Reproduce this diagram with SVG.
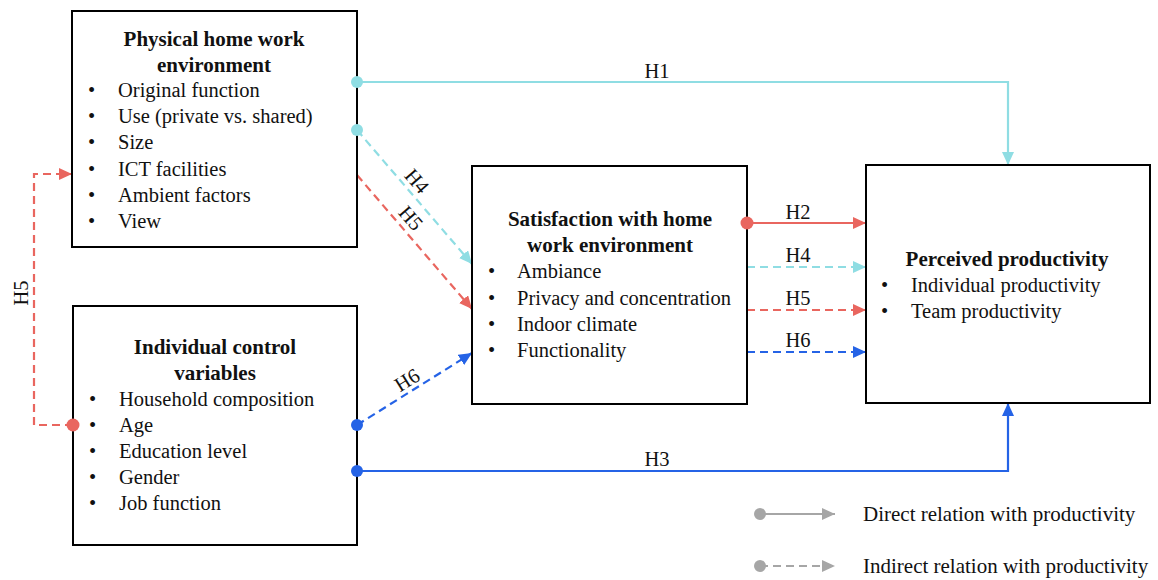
<svg xmlns="http://www.w3.org/2000/svg" width="1158" height="580" viewBox="0 0 1158 580" font-family="Liberation Serif, serif" font-size="20.5">
<style>
.box{fill:#fff;stroke:#000;stroke-width:2}
.tx{fill:#111}
.t{font-weight:bold;text-anchor:middle;font-size:21px}
.lbl{text-anchor:middle;dominant-baseline:central}
.c{stroke:#8fdde3}
.r{stroke:#e9665f}
.b{stroke:#2563e6}
.g{stroke:#a6a6a6}
.ln{fill:none;stroke-width:2.2}
.d{stroke-dasharray:8 5}
</style>
<defs>
<marker id="ac" markerUnits="userSpaceOnUse" markerWidth="14" markerHeight="12" refX="13" refY="6" orient="auto"><path d="M0,0 L13,6 L0,12 z" fill="#8fdde3"/></marker>
<marker id="ar" markerUnits="userSpaceOnUse" markerWidth="14" markerHeight="12" refX="13" refY="6" orient="auto"><path d="M0,0 L13,6 L0,12 z" fill="#e9665f"/></marker>
<marker id="ab" markerUnits="userSpaceOnUse" markerWidth="14" markerHeight="12" refX="13" refY="6" orient="auto"><path d="M0,0 L13,6 L0,12 z" fill="#2563e6"/></marker>
<marker id="ag" markerUnits="userSpaceOnUse" markerWidth="14" markerHeight="12" refX="13" refY="6" orient="auto"><path d="M0,0 L13,6 L0,12 z" fill="#a6a6a6"/></marker>
</defs>

<g id="connectors">
<polyline class="ln c" points="357,82 1008,82 1008,165" marker-end="url(#ac)"/>
<line class="ln c d" x1="357" y1="130" x2="472" y2="264" marker-end="url(#ac)"/>
<line class="ln r d" x1="357" y1="175" x2="472" y2="309" marker-end="url(#ar)"/>
<line class="ln b d" x1="357" y1="425" x2="472" y2="353" marker-end="url(#ab)"/>
<polyline class="ln b" points="357,471 1008,471 1008,403" marker-end="url(#ab)"/>
<polyline class="ln r d" points="73,425 34,425 34,174 72,174" marker-end="url(#ar)"/>
<line class="ln r" x1="747" y1="223" x2="866" y2="223" marker-end="url(#ar)"/>
<line class="ln c d" x1="747" y1="267" x2="866" y2="267" marker-end="url(#ac)"/>
<line class="ln r d" x1="747" y1="310" x2="866" y2="310" marker-end="url(#ar)"/>
<line class="ln b d" x1="747" y1="352" x2="866" y2="352" marker-end="url(#ab)"/>
<g class="tx" font-size="20.5">
<text class="lbl" x="657" y="71">H1</text>
<text class="lbl" x="657" y="459">H3</text>
<text class="lbl" x="798" y="212">H2</text>
<text class="lbl" x="798" y="255">H4</text>
<text class="lbl" x="798" y="298">H5</text>
<text class="lbl" x="798" y="340">H6</text>
<text class="lbl" transform="translate(417,181) rotate(49)">H4</text>
<text class="lbl" transform="translate(411,218) rotate(49)">H5</text>
<text class="lbl" transform="translate(407,380) rotate(-32)">H6</text>
<text class="lbl" transform="translate(21,293) rotate(-90)">H5</text>
</g>
</g>

<g id="physical" class="tx">
<rect class="box" x="72" y="11" width="285" height="236"/>
<text class="t" x="214" y="46">Physical home work</text>
<text class="t" x="214" y="72">environment</text>
<text x="88" y="97">•</text><text x="118" y="97">Original function</text>
<text x="88" y="123">•</text><text x="118" y="123">Use (private vs. shared)</text>
<text x="88" y="149">•</text><text x="118" y="149">Size</text>
<text x="88" y="176">•</text><text x="118" y="176">ICT facilities</text>
<text x="88" y="202">•</text><text x="118" y="202">Ambient factors</text>
<text x="88" y="228">•</text><text x="118" y="228">View</text>
</g>

<g id="individual" class="tx">
<rect class="box" x="73" y="306" width="284" height="239"/>
<text class="t" x="215" y="354">Individual control</text>
<text class="t" x="215" y="380">variables</text>
<text x="89" y="406">•</text><text x="119" y="406">Household composition</text>
<text x="89" y="432">•</text><text x="119" y="432">Age</text>
<text x="89" y="458">•</text><text x="119" y="458">Education level</text>
<text x="89" y="484">•</text><text x="119" y="484">Gender</text>
<text x="89" y="510">•</text><text x="119" y="510">Job function</text>
</g>

<g id="satisfaction" class="tx">
<rect class="box" x="472" y="166" width="275" height="238"/>
<text class="t" x="610" y="226">Satisfaction with home</text>
<text class="t" x="610" y="252">work environment</text>
<text x="488" y="278">•</text><text x="517" y="278">Ambiance</text>
<text x="488" y="305">•</text><text x="517" y="305">Privacy and concentration</text>
<text x="488" y="331">•</text><text x="517" y="331">Indoor climate</text>
<text x="488" y="357">•</text><text x="517" y="357">Functionality</text>
</g>

<g id="productivity" class="tx">
<rect class="box" x="866" y="165" width="284" height="238"/>
<text class="t" x="1007" y="266">Perceived productivity</text>
<text x="881" y="292">•</text><text x="911" y="292">Individual productivity</text>
<text x="881" y="318">•</text><text x="911" y="318">Team productivity</text>
</g>

<g id="dots">
<circle cx="357" cy="82" r="6" fill="#8fdde3"/>
<circle cx="357" cy="130" r="6" fill="#8fdde3"/>
<circle cx="357" cy="425" r="6" fill="#2563e6"/>
<circle cx="357" cy="471" r="6" fill="#2563e6"/>
<circle cx="73" cy="425" r="6.5" fill="#e9665f"/>
<circle cx="747" cy="223" r="6.5" fill="#e9665f"/>
</g>

<g id="legend" class="tx" font-size="21">
<line class="ln g" x1="760" y1="514" x2="835" y2="514" marker-end="url(#ag)"/>
<circle cx="760" cy="514" r="6" fill="#a6a6a6"/>
<text x="863" y="521">Direct relation with productivity</text>
<line class="ln g d" x1="760" y1="566" x2="835" y2="566" marker-end="url(#ag)"/>
<circle cx="760" cy="566" r="6" fill="#a6a6a6"/>
<text x="863" y="573">Indirect relation with productivity</text>
</g>
</svg>
